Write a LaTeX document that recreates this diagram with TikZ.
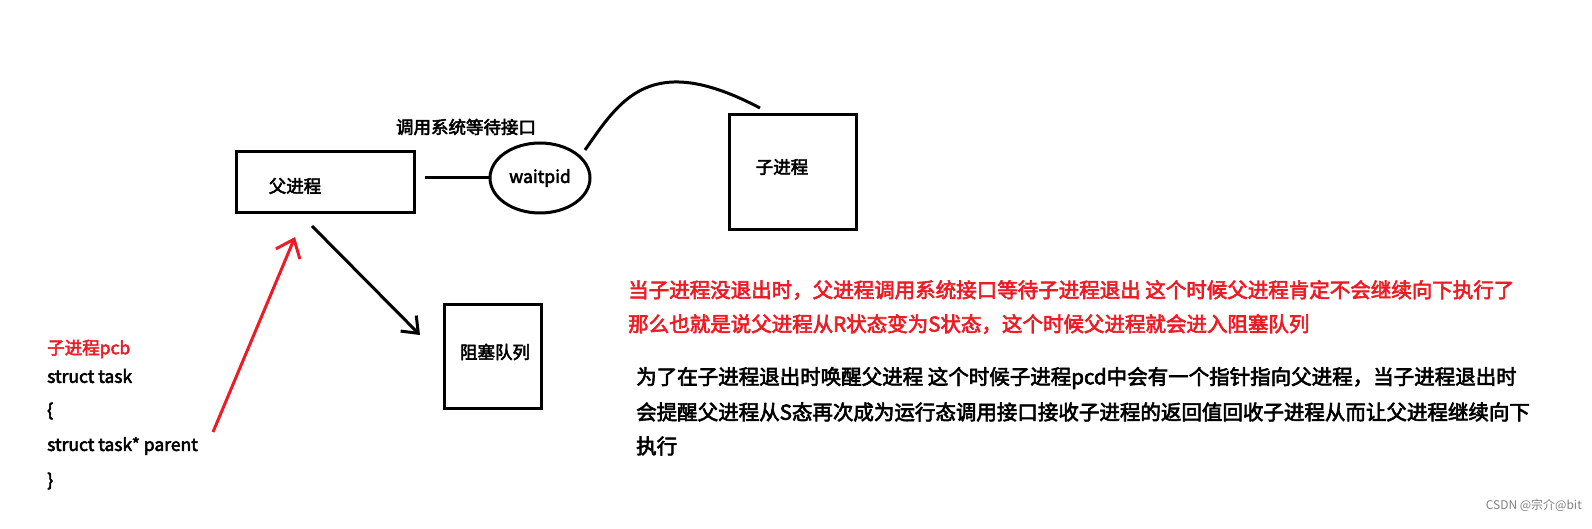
\documentclass[tikz,border=0pt]{standalone}
\usepackage{fontspec}
\setmainfont{Noto Sans CJK SC}[FakeBold=3]
\usetikzlibrary{shapes.geometric,arrows.meta}
\definecolor{myred}{RGB}{237,28,36}
\begin{document}
\begin{tikzpicture}[x=1pt,y=-1pt,
  box/.style={draw,line width=3pt,inner sep=0pt,anchor=north west},
  txt/.style={font=\fontsize{17.5}{19}\selectfont,inner sep=0pt},
  ptxt/.style={font=\fontsize{20.5}{22}\selectfont,inner sep=0pt,anchor=west},
  ltxt/.style={txt,anchor=west}]
\useasboundingbox (0,0) rectangle (1592,529);
\node[box,minimum width=178,minimum height=61] (p) at (235,150) {};
\node[txt] at (295,186) {父进程};
\node[box,minimum width=127,minimum height=115] (c) at (728,113) {};
\node[txt] at (782,167) {子进程};
\node[box,minimum width=97,minimum height=104] (q) at (443,303) {};
\node[txt] at (495,352) {阻塞队列};
\node[draw,ellipse,line width=3pt,minimum width=100,minimum height=70] (w) at (540,178) {};
\node[txt] at (540,178) {waitpid};
\node[txt] (lab) at (466,127) {调用系统等待接口};
\coordinate (l1) at (425,178);
\draw[line width=3pt] (l1) -- (w.west);
\coordinate (ca) at (585,150);
\coordinate (cb) at (760,108);
\draw[line width=3pt] (ca) .. controls (620,100) and (650,50) .. (cb);
\coordinate (a1) at (312,226);
\coordinate (a2) at (420,335);
\draw[line width=3pt,-{Straight Barb[length=14pt,width=22pt]}] (a1) -- (a2);
\coordinate (r1) at (213,432);
\coordinate (r2) at (295,237);
\draw[line width=3pt,myred,-{Straight Barb[length=16pt,width=26pt]}] (r1) -- (r2);
\node[ltxt,myred] at (47,349) {子进程pcb};
\node[ltxt] at (47,376) {struct task};
\node[ltxt] at (47,411) {\{};
\node[ltxt] at (47,446) {struct task* parent};
\node[ltxt] at (47,481) {\}};
\node[ptxt,myred] at (628,290) {当子进程没退出时，父进程调用系统接口等待子进程退出 这个时候父进程肯定不会继续向下执行了};
\node[ptxt,myred] at (628,324) {那么也就是说父进程从R状态变为S状态，这个时候父进程就会进入阻塞队列};
\node[ptxt] at (636,378) {为了在子进程退出时唤醒父进程 这个时候子进程pcd中会有一个指针指向父进程，当子进程退出时};
\node[ptxt] at (636,412) {会提醒父进程从S态再次成为运行态调用接口接收子进程的返回值回收子进程从而让父进程继续向下};
\node[ptxt] at (636,446) {执行};
\node[inner sep=0pt,anchor=east,text=gray,font=\fontspec{Noto Sans CJK SC}\fontsize{12}{13}\selectfont] at (1582,505) {CSDN @宗介@bit};
\end{tikzpicture}
\end{document}
